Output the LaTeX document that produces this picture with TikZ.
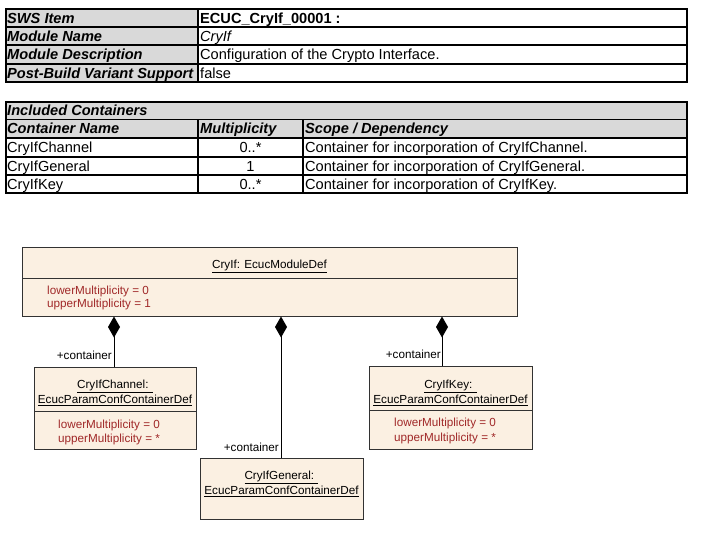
\documentclass[tikz,border=0pt]{standalone}
\usepackage{fontspec}
\setmainfont{Liberation Sans}
\usetikzlibrary{arrows.meta,positioning}
\definecolor{cellgray}{RGB}{217,217,217}
\definecolor{umlfill}{RGB}{251,240,226}
\definecolor{attrred}{RGB}{160,40,40}
\definecolor{umlline}{RGB}{50,50,50}

\begin{document}
\begin{tikzpicture}[x=1pt,y=-1pt,
  cell/.style={anchor=base west,inner sep=0pt,font=\fontsize{14.6}{17}\selectfont},
  head/.style={cell,font=\fontsize{14.6}{17}\selectfont\bfseries\itshape},
  grid/.style={line width=2pt},
  umlbox/.style={draw=umlline,fill=umlfill,line width=1pt,inner sep=0pt},
  uml/.style={font=\fontsize{11.7}{15}\selectfont,inner sep=0pt},
  attr/.style={uml,text=attrred,anchor=base west},
  role/.style={uml,anchor=south east},
  comp/.style={-{Diamond[length=21pt,width=12pt]},line width=1pt}]
\useasboundingbox (0,0) rectangle (705,535);
% module table
\fill[cellgray] (6,9) rectangle (198,82);
\foreach \y in {27,45,64} \draw[grid] (6,\y) -- (687,\y);
\draw[grid] (198,9) -- (198,82);
\draw[grid] (6,9) rectangle (687,82);
\node[head] (swsitem) at (7,23.5) {SWS Item};
\node[head] (modname) at (7,41.5) {Module Name};
\node[head] (moddesc) at (7,60) {Module Description};
\node[head] (postbuild) at (7,78.5) {Post-Build Variant Support};
\node[cell,font=\fontsize{14.6}{17}\selectfont\bfseries] (swsval) at (200,23.5) {ECUC\_CryIf\_00001 :};
\node[cell,font=\fontsize{14.6}{17}\selectfont\itshape] (nameval) at (200,41.5) {CryIf};
\node[cell] (descval) at (200,60) {Configuration of the Crypto Interface.};
\node[cell] (postval) at (200,78.5) {false};
% containers table
\fill[cellgray] (6,102) rectangle (687,138);
\draw[line width=1pt] (6,120) -- (687,120);
\foreach \y in {138,157,175} \draw[grid] (6,\y) -- (687,\y);
\foreach \x in {198,303} \draw[grid] (\x,120) -- (\x,193);
\draw[grid] (6,102) rectangle (687,193);
\node[head] (incl) at (7,116) {Included Containers};
\node[head] (hname) at (7,134) {Container Name};
\node[head] (hmult) at (200,134) {Multiplicity};
\node[head] (hscope) at (305,134) {Scope / Dependency};
\node[cell] (cname1) at (7,153) {CryIfChannel};
\node[cell] (cname2) at (7,171.5) {CryIfGeneral};
\node[cell] (cname3) at (7,189.5) {CryIfKey};
\node[cell,anchor=base] (cmult1) at (250.5,153) {0..*};
\node[cell,anchor=base] (cmult2) at (250.5,171.5) {1};
\node[cell,anchor=base] (cmult3) at (250.5,189.5) {0..*};
\node[cell] (cscope1) at (305,153) {Container for incorporation of CryIfChannel.};
\node[cell] (cscope2) at (305,171.5) {Container for incorporation of CryIfGeneral.};
\node[cell] (cscope3) at (305,189.5) {Container for incorporation of CryIfKey.};
% uml diagram
\node[umlbox,minimum width=495,minimum height=69] (mod) at (269.5,281.5) {};
\draw[umlline,line width=1pt] (22,278) -- (517,278);
\node[uml] (modtitle) at (269.5,266.5) {\underline{CryIf: EcucModuleDef}};
\node[attr] (modlow) at (47,294) {lowerMultiplicity = 0};
\node[attr] (modup) at (47,307) {upperMultiplicity = 1};

\node[umlbox,minimum width=162,minimum height=82] (chan) at (115,408) {};
\draw[umlline,line width=1pt] (34,411) -- (196,411);
\node[uml,align=center] (chantitle) at (115,393) {\underline{CryIfChannel: }\\\underline{EcucParamConfContainerDef}};
\node[attr] (chanlow) at (58,428) {lowerMultiplicity = 0};
\node[attr] (chanup) at (58,442) {upperMultiplicity = *};

\node[umlbox,minimum width=163,minimum height=61] (gen) at (281.5,488.5) {};
\node[uml,align=center] (gentitle) at (281.5,484) {\underline{CryIfGeneral: }\\\underline{EcucParamConfContainerDef}};

\node[umlbox,minimum width=163,minimum height=83] (key) at (450.5,407.5) {};
\draw[umlline,line width=1pt] (369,410) -- (532,410);
\node[uml,align=center] (keytitle) at (450.5,393) {\underline{CryIfKey: }\\\underline{EcucParamConfContainerDef}};
\node[attr] (keylow) at (394,426) {lowerMultiplicity = 0};
\node[attr] (keyup) at (394,441) {upperMultiplicity = *};

\coordinate (chanc) at (114,367);
\coordinate (genc) at (281,458);
\coordinate (keyc) at (442,366);
\draw[comp] (chanc) -- (chanc |- mod.south);
\draw[comp] (genc) -- (genc |- mod.south);
\draw[comp] (keyc) -- (keyc |- mod.south);
\node[role,above left=7pt and 2pt of chanc] (chanrole) {+container};
\node[role,above left=6pt and 2pt of genc] (genrole) {+container};
\node[role,above left=7pt and 1pt of keyc] (keyrole) {+container};
\end{tikzpicture}
\end{document}
